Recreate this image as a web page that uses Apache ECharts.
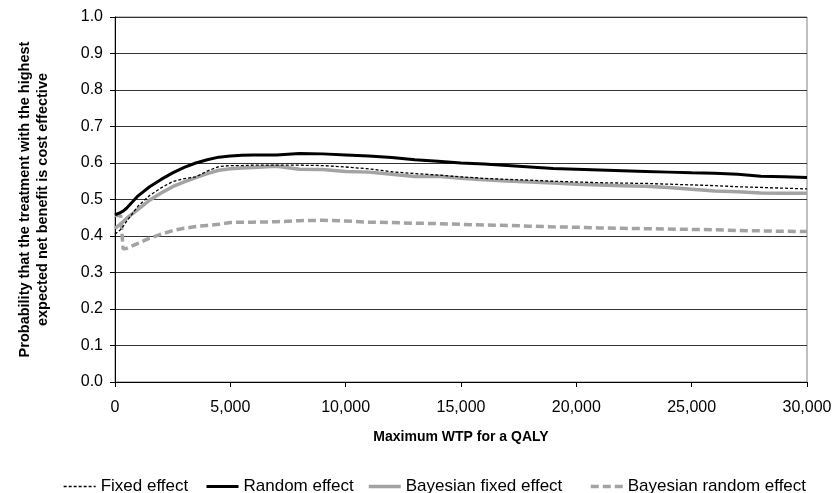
<!DOCTYPE html>
<html>
<head>
<meta charset="utf-8">
<script src="https://cdn.jsdelivr.net/npm/echarts@6/dist/echarts.min.js"></script>
<style>
html,body{margin:0;padding:0;background:#fff;}
#chart{width:837px;height:493px;}
</style>
</head>
<body>
<div id="chart"></div>
<script>
// Maximum WTP for a QALY (x values)
const wtp = [0,250,350,500,1000,1500,2000,2500,3000,3500,4000,4500,5000,5500,6000,7000,8000,9000,10000,11000,12000,13000,14000,15000,16000,17000,18000,19000,20000,21000,22000,23000,24000,25000,26000,27000,28000,29000,30000];

const fixedEffect = [0.405,0.418,0.426,0.440,0.482,0.511,0.532,0.549,0.557,0.562,0.578,0.590,0.593,0.593,0.594,0.594,0.594,0.593,0.589,0.584,0.576,0.571,0.567,0.562,0.558,0.555,0.553,0.550,0.548,0.546,0.545,0.544,0.542,0.540,0.538,0.535,0.533,0.531,0.529];

const randomEffect = [0.458,0.465,0.468,0.476,0.510,0.535,0.555,0.573,0.588,0.600,0.609,0.616,0.619,0.621,0.622,0.622,0.626,0.625,0.622,0.619,0.615,0.609,0.605,0.600,0.597,0.593,0.589,0.585,0.583,0.581,0.579,0.577,0.575,0.573,0.572,0.569,0.564,0.562,0.560];

const bayesFixed = [0.421,0.433,0.439,0.448,0.473,0.498,0.518,0.535,0.548,0.560,0.571,0.580,0.584,0.586,0.588,0.591,0.583,0.582,0.577,0.575,0.569,0.563,0.564,0.558,0.554,0.551,0.548,0.545,0.542,0.540,0.538,0.536,0.533,0.528,0.523,0.521,0.518,0.517,0.517];

const bayesRandom = [0.456,0.456,0.365,0.366,0.380,0.394,0.405,0.415,0.421,0.426,0.429,0.432,0.437,0.438,0.438,0.439,0.442,0.443,0.441,0.438,0.437,0.435,0.434,0.432,0.430,0.429,0.427,0.425,0.424,0.422,0.421,0.420,0.419,0.418,0.417,0.415,0.414,0.413,0.412];

const seriesNames = ['Fixed effect','Random effect','Bayesian fixed effect','Bayesian random effect'];
const xTitle = 'Maximum WTP for a QALY';
const yTitle = 'Probability that the treatment with the highest\nexpected net benefit is cost effective';

function pairs(vals){ return wtp.map((x,i)=>[x, vals[i]]); }

const GRAY = '#a3a3a3';
const FONT = '"Liberation Sans", Arial, sans-serif';
const legendLefts = [63, 205, 367, 589];
const legendWidths = [1.3, 3, 3.5, 3.5];

const chart = echarts.init(document.getElementById('chart'), null, {renderer:'canvas'});
chart.setOption({
  animation:false,
  backgroundColor:'#fff',
  grid:{left:115, right:30, top:17, bottom:111, show:true, borderColor:'#808080', borderWidth:1, backgroundColor:'transparent'},
  xAxis:{
    type:'value', min:0, max:30000, interval:5000,
    name:xTitle, nameLocation:'middle', nameGap:48,
    nameTextStyle:{fontFamily:FONT, fontWeight:'bold', fontSize:14, color:'#000', lineHeight:15},
    axisLine:{show:true, lineStyle:{color:'#000', width:1}},
    axisTick:{show:true, length:5, lineStyle:{color:'#000'}},
    axisLabel:{margin:18, fontFamily:FONT, fontSize:16, color:'#000', lineHeight:16,
      formatter:v=>v.toLocaleString('en-US'), showMinLabel:true, showMaxLabel:true},
    splitLine:{show:false}
  },
  yAxis:{
    type:'value', min:0, max:1, interval:0.1,
    name:yTitle, nameLocation:'middle', nameRotate:90, nameGap:63,
    nameTextStyle:{fontFamily:FONT, fontWeight:'bold', fontSize:14.5, color:'#000', lineHeight:18, align:'center'},
    axisLine:{show:true, lineStyle:{color:'#000', width:1}},
    axisTick:{show:true, length:5, lineStyle:{color:'#000'}},
    axisLabel:{margin:12, fontFamily:FONT, fontSize:16, color:'#000', formatter:v=>v.toFixed(1)},
    splitLine:{show:true, lineStyle:{color:'#333', width:1}}
  },
  legend: seriesNames.map((n,i)=>({
    data:[n], left:legendLefts[i], top:478, padding:0, itemWidth:32, itemHeight:16,
    itemStyle:{opacity:0},
    lineStyle:{width:legendWidths[i]},
    textStyle:{fontFamily:FONT, fontSize:17, color:'#000'}
  })),
  series:[
    {name:seriesNames[0], type:'line', data:pairs(fixedEffect), showSymbol:false, symbol:'none', z:5,
      lineStyle:{color:'#000', width:1.3, type:[3,2]}, itemStyle:{color:'#000'}},
    {name:seriesNames[1], type:'line', data:pairs(randomEffect), showSymbol:false, symbol:'none', z:4,
      lineStyle:{color:'#000', width:3}, itemStyle:{color:'#000'}},
    {name:seriesNames[2], type:'line', data:pairs(bayesFixed), showSymbol:false, symbol:'none', z:3,
      lineStyle:{color:GRAY, width:3.5}, itemStyle:{color:GRAY}},
    {name:seriesNames[3], type:'line', data:pairs(bayesRandom), showSymbol:false, symbol:'none', z:2,
      lineStyle:{color:GRAY, width:3.5, type:[8,4]}, itemStyle:{color:GRAY}}
  ]
});
</script>
</body>
</html>
